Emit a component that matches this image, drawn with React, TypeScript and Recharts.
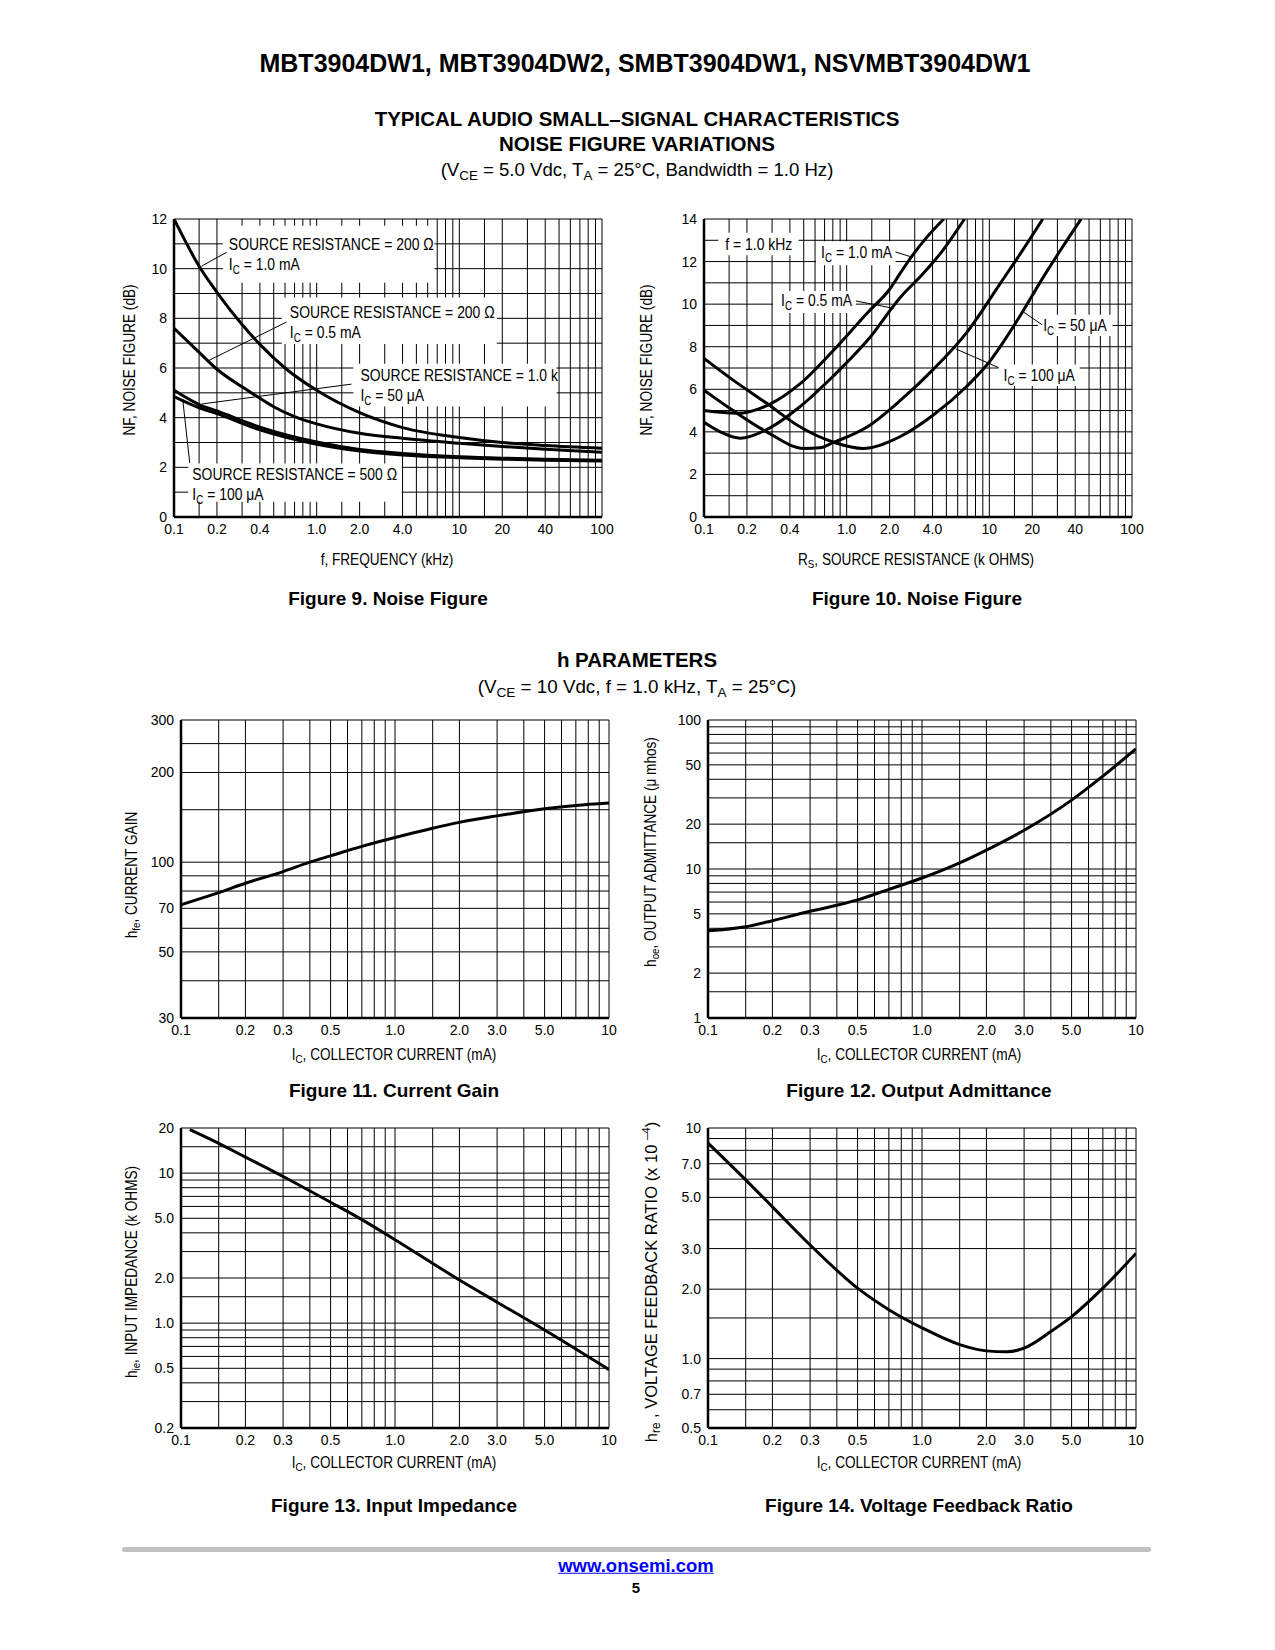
import React from "react";
import {
  LineChart,
  Line,
  XAxis,
  YAxis,
  CartesianGrid,
  ReferenceArea,
  ReferenceLine,
} from "recharts";

const SANS = '"Liberation Sans", Arial, Helvetica, sans-serif';
// the datasheet uses a condensed Helvetica; squeeze the regular face horizontally
const NARROW_X = 0.82;
const TITLE_X = 0.85;

// ---- Figure 9: NF vs frequency (kHz)
const fig9FreqA = [0.1, 0.15, 0.2, 0.3, 0.4, 0.6, 1.0, 2.0, 4.0, 10, 20, 40, 100];
const fig9Nf200R1mA = [12.0, 10.1, 9.05, 7.75, 6.95, 6.0, 5.1, 4.2, 3.6, 3.2, 3.0, 2.88, 2.77];
const fig9FreqB = [0.1, 0.15, 0.2, 0.3, 0.4, 0.5, 0.7, 1.0, 2.0, 4.0, 10, 20, 40, 100];
const fig9Nf200R05mA = [7.6, 6.63, 5.95, 5.24, 4.78, 4.44, 4.04, 3.75, 3.37, 3.17, 2.97, 2.84, 2.73, 2.61];
const fig9FreqC = [0.1, 0.15, 0.2, 0.4, 1.0, 2.0, 4.0, 10, 20, 40, 100];
const fig9Nf1k50uA = [5.1, 4.53, 4.27, 3.62, 3.02, 2.72, 2.56, 2.43, 2.37, 2.33, 2.29];
const fig9Nf500R100uA = [4.85, 4.4, 4.16, 3.51, 2.93, 2.66, 2.5, 2.39, 2.33, 2.29, 2.25];

// ---- Figure 10: NF vs source resistance (k ohms)
const fig10Rs1mA = [0.1, 0.17, 0.29, 0.47, 0.8, 1.4, 2.0, 2.4, 2.9, 3.6, 4.8];
const fig10Nf1mA = [5.0, 4.87, 5.3, 6.25, 7.8, 9.6, 10.7, 11.5, 12.3, 13.1, 14.0];
const fig10Rs05mA = [0.1, 0.13, 0.18, 0.27, 0.47, 0.8, 1.4, 2.4, 3.4, 4.75, 6.7];
const fig10Nf05mA = [4.45, 4.0, 3.7, 4.08, 5.18, 6.6, 8.3, 10.35, 11.4, 12.55, 14.0];
const fig10Rs100uA = [0.1, 0.16, 0.275, 0.5, 0.65, 0.8, 1.4, 2.4, 4.0, 7.0, 12, 17, 23.7];
const fig10Nf100uA = [5.96, 5.0, 4.0, 3.22, 3.25, 3.49, 4.24, 5.5, 6.9, 8.7, 11.0, 12.5, 14.0];
const fig10Rs50uA = [0.1, 0.16, 0.275, 0.47, 0.83, 1.3, 2.36, 4.05, 6.9, 9.6, 16.8, 23.2, 32, 44];
const fig10Nf50uA = [7.45, 6.43, 5.34, 4.24, 3.49, 3.22, 3.77, 4.79, 6.12, 7.14, 9.56, 11.13, 12.6, 14.0];

// ---- Figures 11-14: h parameters vs collector current (mA)
const fig11Ic = [0.1, 0.15, 0.2, 0.3, 0.4, 0.5, 0.7, 1.0, 1.5, 2.0, 3.0, 5.0, 7.0, 10];
const fig11Hfe = [72, 79, 85, 93, 100, 105, 113, 121, 130, 136, 143, 151, 155, 158];
const fig12Ic = [0.1, 0.15, 0.2, 0.3, 0.5, 0.7, 1.0, 1.5, 2.0, 3.0, 5.0, 7.0, 10];
const fig12Hoe = [3.85, 4.1, 4.5, 5.2, 6.2, 7.3, 8.7, 11.0, 13.4, 18.2, 29, 42, 64];
const fig13Ic = [0.11, 0.15, 0.2, 0.3, 0.5, 0.7, 1.0, 2.0, 3.0, 5.0, 10];
const fig13Hie = [19.5, 15.8, 12.8, 9.5, 6.4, 4.9, 3.6, 1.94, 1.38, 0.9, 0.49];
const fig14Ic = [0.1, 0.15, 0.2, 0.3, 0.5, 0.7, 1.0, 1.5, 2.0, 2.5, 3.0, 4.0, 5.0, 7.0, 10];
const fig14Hre = [8.6, 5.96, 4.55, 3.11, 2.02, 1.63, 1.36, 1.15, 1.08, 1.07, 1.11, 1.31, 1.52, 2.02, 2.86];

// ---- tick labels
const nfXLabelVals = [0.1, 0.2, 0.4, 1, 2, 4, 10, 20, 40, 100];
const nfXLabels = ["0.1", "0.2", "0.4", "1.0", "2.0", "4.0", "10", "20", "40", "100"];
const icXLabelVals = [0.1, 0.2, 0.3, 0.5, 1, 2, 3, 5, 10];
const icXLabels = ["0.1", "0.2", "0.3", "0.5", "1.0", "2.0", "3.0", "5.0", "10"];
const fig9YLabelVals = [0, 2, 4, 6, 8, 10, 12];
const fig10YLabelVals = [0, 2, 4, 6, 8, 10, 12, 14];
const fig11YGrid = [30, 40, 50, 60, 70, 80, 90, 100, 150, 200, 250, 300];
const fig11YLabelVals = [30, 50, 70, 100, 200, 300];
const fig12YLabelVals = [1, 2, 5, 10, 20, 50, 100];
const fig13YGrid = [0.2, 0.3, 0.4, 0.5, 0.6, 0.7, 0.8, 0.9, 1, 1.5, 2, 3, 4, 5, 6, 7, 8, 9, 10, 15, 20];
const fig13YLabelVals = [0.2, 0.5, 1, 2, 5, 10, 20];
const fig13YLabels = ["0.2", "0.5", "1.0", "2.0", "5.0", "10", "20"];
const fig14YGrid = [0.5, 0.6, 0.7, 0.8, 0.9, 1, 1.5, 2, 3, 4, 5, 6, 7, 8, 9, 10];
const fig14YLabelVals = [0.5, 0.7, 1, 2, 3, 5, 7, 10];
const fig14YLabels = ["0.5", "0.7", "1.0", "2.0", "3.0", "5.0", "7.0", "10"];

const logGrid = (from: number, to: number) => {
  const out: number[] = [];
  for (let d = from; d < to; d *= 10) {
    for (const m of [1, 1.5, 2, 3, 4, 5, 6, 7, 8, 9]) out.push(+(d * m).toPrecision(3));
  }
  out.push(to);
  return out;
};
const linGrid = (max: number) => Array.from({ length: max + 1 }, (_, i) => i);
const pts = (xs: number[], ys: number[]) => xs.map((x, i) => ({ x, y: ys[i] }));

const Ic = (rest: string) => (
  <>
    I<tspan dy={4} fontSize={12}>C</tspan>
    <tspan dy={-4}>{rest}</tspan>
  </>
);

function BoxLabel(props: any) {
  const { viewBox, lines, first = 20, gap = 20, pad = 6 } = props;
  const { x, y } = viewBox;
  return (
    <g>
      {lines.map((ln: React.ReactNode, i: number) => (
        <text
          key={i}
          transform={`translate(${x + pad},${y + first + i * gap}) scale(${NARROW_X},1)`}
          fontFamily={SANS}
          fontSize={17}
          fill="#000"
        >
          {ln}
        </text>
      ))}
    </g>
  );
}

type Curve = { xs: number[]; ys: number[] };
type Box = { x1: number; x2: number; y1: number; y2: number; first: number; pad?: number; lines: React.ReactNode[] };
type Pointer = [number, number, number, number];

type PlotProps = {
  left: number;
  top: number;
  w: number;
  h: number;
  xDomain: [number, number];
  xGrid: number[];
  xLabelVals: number[];
  xLabels: string[];
  yScale: "log" | "linear";
  yDomain: [number, number];
  yGrid: number[];
  yLabelVals: number[];
  yLabels: string[];
  curves: Curve[];
  boxes?: Box[];
  pointers?: Pointer[];
};

const YW = 50;
const MT = 8;
const MR = 18;
const XH = 30;

const fmt = (vals: number[], labels: string[]) => (v: number) => {
  const i = vals.indexOf(v);
  return i < 0 ? "" : labels[i];
};

function Plot(p: PlotProps) {
  const tickStyle = { fill: "#000", fontSize: 14, fontFamily: SANS };
  return (
    <div style={{ position: "absolute", left: p.left - YW, top: p.top - MT }}>
      <LineChart
        width={p.w + YW + MR}
        height={p.h + MT + XH}
        margin={{ top: MT, right: MR, bottom: 0, left: 0 }}
      >
        <CartesianGrid stroke="#000" strokeWidth={1} />
        <XAxis
          dataKey="x"
          type="number"
          scale="log"
          domain={p.xDomain}
          ticks={p.xGrid}
          interval={0}
          tickFormatter={fmt(p.xLabelVals, p.xLabels)}
          tickLine={false}
          tickSize={0}
          tickMargin={7}
          height={XH}
          axisLine={{ stroke: "#000", strokeWidth: 2.5 }}
          tick={tickStyle}
          allowDataOverflow
        />
        <YAxis
          type="number"
          scale={p.yScale}
          domain={p.yDomain}
          ticks={p.yGrid}
          interval={0}
          tickFormatter={fmt(p.yLabelVals, p.yLabels)}
          tickLine={false}
          tickSize={0}
          tickMargin={7}
          width={YW}
          axisLine={{ stroke: "#000", strokeWidth: 2.5 }}
          tick={tickStyle}
          allowDataOverflow
        />
        {(p.boxes || []).map((b, i) => (
          <ReferenceArea
            key={"box" + i}
            x1={b.x1}
            x2={b.x2}
            y1={b.y1}
            y2={b.y2}
            fill="#fff"
            fillOpacity={1}
            stroke="none"
            ifOverflow="visible"
            label={<BoxLabel lines={b.lines} first={b.first} pad={b.pad ?? 6} />}
          />
        ))}
        {(p.pointers || []).map((s, i) => (
          <ReferenceLine
            key={"ptr" + i}
            segment={[
              { x: s[0], y: s[1] },
              { x: s[2], y: s[3] },
            ]}
            stroke="#000"
            strokeWidth={1}
            ifOverflow="visible"
          />
        ))}
        {p.curves.map((c, i) => (
          <Line
            key={"c" + i}
            data={pts(c.xs, c.ys)}
            dataKey="y"
            type="monotone"
            stroke="#000"
            strokeWidth={3}
            dot={false}
            isAnimationActive={false}
          />
        ))}
      </LineChart>
    </div>
  );
}

function T(props: {
  x: number;
  y: number;
  size: number;
  bold?: boolean;
  squeeze?: number;
  rotate?: boolean;
  color?: string;
  underline?: boolean;
  children: React.ReactNode;
}) {
  const { x, y, size, bold, squeeze, rotate, color = "#000", underline, children } = props;
  return (
    <div
      style={{
        position: "absolute",
        left: x,
        top: y,
        transform: `translate(-50%, -50%)${rotate ? " rotate(-90deg)" : ""}${squeeze ? ` scaleX(${squeeze})` : ""}`,
        fontFamily: SANS,
        fontSize: size,
        fontWeight: bold ? 700 : 400,
        whiteSpace: "nowrap",
        lineHeight: 1,
        color,
        textDecoration: underline ? "underline" : "none",
      }}
    >
      {children}
    </div>
  );
}

const Sub = ({ children }: { children: React.ReactNode }) => (
  <sub style={{ fontSize: "0.72em", verticalAlign: "-0.3em", lineHeight: 0 }}>{children}</sub>
);

export default function App() {
  const nfX = logGrid(0.1, 100);
  const icX = logGrid(0.1, 10);
  return (
    <div style={{ position: "absolute", left: 0, top: 0, width: 1275, height: 1650, background: "#fff" }}>
      <T x={645} y={63} size={25} bold>
        MBT3904DW1, MBT3904DW2, SMBT3904DW1, NSVMBT3904DW1
      </T>
      <T x={637} y={119} size={20.5} bold>
        TYPICAL AUDIO SMALL–SIGNAL CHARACTERISTICS
      </T>
      <T x={637} y={144} size={20.5} bold>
        NOISE FIGURE VARIATIONS
      </T>
      <T x={637} y={170} size={18.6}>
        (V<Sub>CE</Sub> = 5.0 Vdc, T<Sub>A</Sub> = 25°C, Bandwidth = 1.0 Hz)
      </T>

      {/* Figure 9 */}
      <Plot
        left={174}
        top={219}
        w={428}
        h={298}
        xDomain={[0.1, 100]}
        xGrid={nfX}
        xLabelVals={nfXLabelVals}
        xLabels={nfXLabels}
        yScale="linear"
        yDomain={[0, 12]}
        yGrid={linGrid(12)}
        yLabelVals={fig9YLabelVals}
        yLabels={fig9YLabelVals.map(String)}
        curves={[
          { xs: fig9FreqA, ys: fig9Nf200R1mA },
          { xs: fig9FreqB, ys: fig9Nf200R05mA },
          { xs: fig9FreqC, ys: fig9Nf1k50uA },
          { xs: fig9FreqC, ys: fig9Nf500R100uA },
        ]}
        boxes={[
          { x1: 0.22, x2: 6.7, y1: 9.43, y2: 11.73, first: 24, lines: ["SOURCE RESISTANCE = 200 Ω", Ic(" = 1.0 mA")] },
          { x1: 0.57, x2: 18.3, y1: 6.97, y2: 8.84, first: 20.5, pad: 8, lines: ["SOURCE RESISTANCE = 200 Ω", Ic(" = 0.5 mA")] },
          { x1: 1.81, x2: 48, y1: 4.45, y2: 6.17, first: 17.5, pad: 7, lines: ["SOURCE RESISTANCE = 1.0 k", Ic(" = 50 μA")] },
          { x1: 0.126, x2: 3.94, y1: 0.61, y2: 2.15, first: 16, pad: 4, lines: ["SOURCE RESISTANCE = 500 Ω", Ic(" = 100 μA")] },
        ]}
        pointers={[
          [0.234, 10.66, 0.156, 10.1],
          [0.615, 7.85, 0.175, 6.3],
          [1.75, 5.35, 0.156, 4.55],
          [0.129, 2.17, 0.115, 4.75],
        ]}
      />
      <T x={130} y={360} size={16} squeeze={TITLE_X} rotate>
        NF, NOISE FIGURE (dB)
      </T>
      <T x={387} y={560} size={16} squeeze={TITLE_X}>
        f, FREQUENCY (kHz)
      </T>
      <T x={388} y={598} size={19} bold>
        Figure 9. Noise Figure
      </T>

      {/* Figure 10 */}
      <Plot
        left={704}
        top={219}
        w={428}
        h={298}
        xDomain={[0.1, 100]}
        xGrid={nfX}
        xLabelVals={nfXLabelVals}
        xLabels={nfXLabels}
        yScale="linear"
        yDomain={[0, 14]}
        yGrid={linGrid(14)}
        yLabelVals={fig10YLabelVals}
        yLabels={fig10YLabelVals.map(String)}
        curves={[
          { xs: fig10Rs1mA, ys: fig10Nf1mA },
          { xs: fig10Rs05mA, ys: fig10Nf05mA },
          { xs: fig10Rs100uA, ys: fig10Nf100uA },
          { xs: fig10Rs50uA, ys: fig10Nf50uA },
        ]}
        boxes={[
          { x1: 0.126, x2: 0.46, y1: 12.3, y2: 13.35, first: 17.5, pad: 7, lines: ["f = 1.0 kHz"] },
          { x1: 0.61, x2: 2.2, y1: 11.83, y2: 12.95, first: 16.6, pad: 5, lines: [Ic(" = 1.0 mA")] },
          { x1: 0.305, x2: 1.16, y1: 9.58, y2: 10.62, first: 15.5, pad: 8, lines: [Ic(" = 0.5 mA")] },
          { x1: 22, x2: 73, y1: 8.5, y2: 9.5, first: 16.4, pad: 5, lines: [Ic(" = 50 μA")] },
          { x1: 11.6, x2: 43, y1: 6.16, y2: 7.17, first: 16.4, pad: 5, lines: [Ic(" = 100 μA")] },
        ]}
        pointers={[
          [2.2, 12.45, 2.9, 12.2],
          [1.16, 10.15, 2.14, 9.8],
          [23.3, 9.04, 17.2, 9.65],
          [11.6, 7.02, 5.8, 7.9],
        ]}
      />
      <T x={647} y={360} size={16} squeeze={TITLE_X} rotate>
        NF, NOISE FIGURE (dB)
      </T>
      <T x={916} y={560} size={16} squeeze={TITLE_X}>
        R<Sub>S</Sub>, SOURCE RESISTANCE (k OHMS)
      </T>
      <T x={917} y={598} size={19} bold>
        Figure 10. Noise Figure
      </T>

      <T x={637} y={660} size={20.5} bold>
        h PARAMETERS
      </T>
      <T x={637} y={687} size={18.8}>
        (V<Sub>CE</Sub> = 10 Vdc, f = 1.0 kHz, T<Sub>A</Sub> = 25°C)
      </T>

      {/* Figure 11 */}
      <Plot
        left={181}
        top={719.5}
        w={428}
        h={298}
        xDomain={[0.1, 10]}
        xGrid={icX}
        xLabelVals={icXLabelVals}
        xLabels={icXLabels}
        yScale="log"
        yDomain={[30, 300]}
        yGrid={fig11YGrid}
        yLabelVals={fig11YLabelVals}
        yLabels={fig11YLabelVals.map(String)}
        curves={[{ xs: fig11Ic, ys: fig11Hfe }]}
      />
      <T x={132} y={875} size={16} squeeze={TITLE_X} rotate>
        h<Sub>fe</Sub>, CURRENT GAIN
      </T>
      <T x={394} y={1055} size={16} squeeze={TITLE_X}>
        I<Sub>C</Sub>, COLLECTOR CURRENT (mA)
      </T>
      <T x={394} y={1090} size={19} bold>
        Figure 11. Current Gain
      </T>

      {/* Figure 12 */}
      <Plot
        left={708}
        top={719.5}
        w={428}
        h={298}
        xDomain={[0.1, 10]}
        xGrid={icX}
        xLabelVals={icXLabelVals}
        xLabels={icXLabels}
        yScale="log"
        yDomain={[1, 100]}
        yGrid={logGrid(1, 100)}
        yLabelVals={fig12YLabelVals}
        yLabels={fig12YLabelVals.map(String)}
        curves={[{ xs: fig12Ic, ys: fig12Hoe }]}
      />
      <T x={651} y={852} size={16} squeeze={TITLE_X} rotate>
        h<Sub>oe</Sub>, OUTPUT ADMITTANCE (μ mhos)
      </T>
      <T x={919} y={1055} size={16} squeeze={TITLE_X}>
        I<Sub>C</Sub>, COLLECTOR CURRENT (mA)
      </T>
      <T x={919} y={1090} size={19} bold>
        Figure 12. Output Admittance
      </T>

      {/* Figure 13 */}
      <Plot
        left={181}
        top={1128}
        w={428}
        h={300}
        xDomain={[0.1, 10]}
        xGrid={icX}
        xLabelVals={icXLabelVals}
        xLabels={icXLabels}
        yScale="log"
        yDomain={[0.2, 20]}
        yGrid={fig13YGrid}
        yLabelVals={fig13YLabelVals}
        yLabels={fig13YLabels}
        curves={[{ xs: fig13Ic, ys: fig13Hie }]}
      />
      <T x={132} y={1272} size={16} squeeze={TITLE_X} rotate>
        h<Sub>ie</Sub>, INPUT IMPEDANCE (k OHMS)
      </T>
      <T x={394} y={1463} size={16} squeeze={TITLE_X}>
        I<Sub>C</Sub>, COLLECTOR CURRENT (mA)
      </T>
      <T x={394} y={1505} size={19} bold>
        Figure 13. Input Impedance
      </T>

      {/* Figure 14 */}
      <Plot
        left={708}
        top={1128}
        w={428}
        h={300}
        xDomain={[0.1, 10]}
        xGrid={icX}
        xLabelVals={icXLabelVals}
        xLabels={icXLabels}
        yScale="log"
        yDomain={[0.5, 10]}
        yGrid={fig14YGrid}
        yLabelVals={fig14YLabelVals}
        yLabels={fig14YLabels}
        curves={[{ xs: fig14Ic, ys: fig14Hre }]}
      />
      <T x={651} y={1282} size={16.5} rotate>
        h<Sub>re</Sub> , VOLTAGE FEEDBACK RATIO (x 10 <sup style={{ fontSize: "0.7em", lineHeight: 0 }}>–4</sup>)
      </T>
      <T x={919} y={1463} size={16} squeeze={TITLE_X}>
        I<Sub>C</Sub>, COLLECTOR CURRENT (mA)
      </T>
      <T x={919} y={1505} size={19} bold>
        Figure 14. Voltage Feedback Ratio
      </T>

      <div
        style={{
          position: "absolute",
          left: 122,
          top: 1547,
          width: 1029,
          height: 5,
          borderRadius: 3,
          background: "#c0c0c0",
        }}
      />
      <T x={636} y={1566} size={18.5} bold color="#0000ff" underline>
        www.onsemi.com
      </T>
      <T x={636} y={1587} size={15} bold>
        5
      </T>
    </div>
  );
}
